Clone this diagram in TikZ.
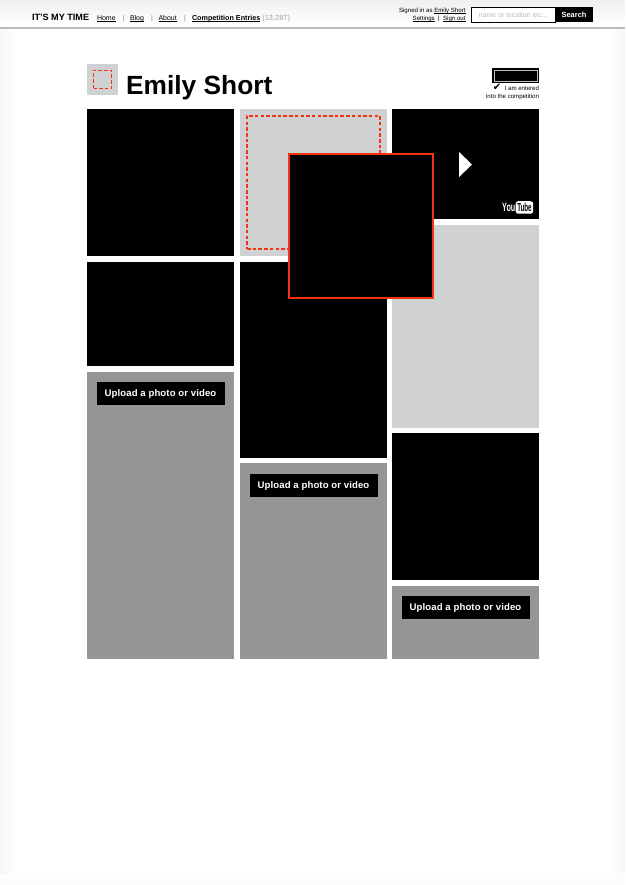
\documentclass[tikz,border=0pt]{standalone}
\usepackage{fontspec}
\setmainfont{Liberation Sans}
\newfontfamily\symfont{DejaVu Sans}
\usepackage{tikz}
\usetikzlibrary{positioning}
\definecolor{tilegray}{HTML}{D0D1D3}
\definecolor{uploadgray}{HTML}{969696}
\definecolor{redline}{HTML}{F4330F}
\definecolor{ruleline}{HTML}{BBBBBB}
\definecolor{edgegray}{HTML}{F6F6F6}
\definecolor{topgray}{HTML}{F0F0F0}
\definecolor{navgray}{HTML}{A0A0A0}
\newcommand{\navul}[1]{\leavevmode\setbox0\hbox{#1}\rlap{\rule[-1pt]{\wd0}{0.4pt}}\box0}

\begin{document}
\begin{tikzpicture}[
  x=1pt,y=-1pt,
  node distance=6pt and 6pt,
  tile/.style={rectangle,fill=black,inner sep=0pt,outer sep=0pt,minimum width=147pt},
  blank/.style={tile,fill=tilegray},
  upload/.style={tile,fill=uploadgray},
  upbtn/.style={rectangle,fill=black,text=white,inner sep=0pt,outer sep=0pt,minimum width=128pt,minimum height=23pt,text depth=0pt,font=\bfseries\fontsize{9.6}{11}\selectfont\addfontfeature{LetterSpace=1}},
  dashbox/.style={rectangle,draw=redline,line width=2pt,inner sep=0pt,outer sep=0pt,dash pattern=on 3.5pt off 2.2pt},
  nav/.style={inner sep=0pt,outer sep=0pt,anchor=base west,font=\fontsize{7}{8}\selectfont},
  small/.style={inner sep=0pt,outer sep=0pt,anchor=base east,align=right,font=\fontsize{6.1}{8.2}\selectfont}
]
\useasboundingbox (0,0) rectangle (625,885);
% page edges
\fill[white] (0,0) rectangle (625,885);
\foreach \i in {0,...,15} {
  \pgfmathsetmacro\amt{100-6.25*\i}
  \fill[edgegray!\amt!white] (\i,0) rectangle (16,885);
  \fill[edgegray!\amt!white] (625-\i,0) rectangle (609,885);
}
\foreach \i in {0,...,11} {
  \pgfmathsetmacro\amt{5*\i}
  \fill[edgegray!\amt!white,fill opacity=0.5] (0,873+\i) rectangle (625,885);
}
\foreach \i in {0,...,25} {
  \pgfmathsetmacro\amt{100-4*\i}
  \fill[topgray!\amt!white] (0,\i) rectangle (625,27);
}
\fill[ruleline] (0,26.8) rectangle (625,28.8);

% top bar
\node[nav,font=\bfseries\fontsize{9.1}{10}\selectfont] (brand) at (32,20.5) {IT'S MY TIME};
\node[nav] (home) at (97,20.5) {\navul{Home}};
\node[nav,text=gray] (s1) at (122.5,20.5) {|};
\node[nav] (blog) at (130,20.5) {\navul{Blog}};
\node[nav,text=gray] (s2) at (151,20.5) {|};
\node[nav] (about) at (158.5,20.5) {\navul{About}};
\node[nav,text=gray] (s3) at (184,20.5) {|};
\node[nav,font=\bfseries\fontsize{7.2}{8}\selectfont] (entries) at (192,20.5) {\navul{Competition Entries}};
\node[nav,text=navgray,font=\fontsize{7.4}{8}\selectfont,right=2pt of entries.base east,anchor=base west] (count) {(13,287)};
\node[small] (signed) at (465.5,12.5) {Signed in as \navul{Emily Short}};
\node[small] (settings) at (465.5,20.5) {\navul{Settings}\ \ |\ \ \navul{Sign out}};
\node[rectangle,draw=black,fill=white,inner sep=0pt,outer sep=0pt,minimum width=83.5pt,minimum height=14.5pt,anchor=north west,text=navgray!70,font=\fontsize{7}{8}\selectfont] (field) at (471.5,7.5) {name or location etc...};
\node[rectangle,fill=black,text=white,inner sep=0pt,outer sep=0pt,minimum width=38pt,minimum height=15.5pt,right=0pt of field,font=\bfseries\fontsize{7.5}{8}\selectfont] (search) {Search};

% name row
\node[rectangle,fill=tilegray,inner sep=0pt,outer sep=0pt,minimum size=31pt,anchor=north west] (avatar) at (87,64) {};
\node[rectangle,draw=redline,line width=1.6pt,inner sep=0pt,dash pattern=on 3.5pt off 2.2pt,minimum size=18pt] (avatardash) at (avatar.center) {};
\node[inner sep=0pt,anchor=base west,font=\bfseries\fontsize{26.3}{30}\selectfont] (name) at (126,95) {Emily Short};
\node[rectangle,fill=black,inner sep=0pt,outer sep=0pt,minimum width=47pt,minimum height=15pt,anchor=north west] (entered) at (492,68) {};
\node[rectangle,fill=black,draw=navgray!70,line width=0.6pt,inner sep=0pt,outer sep=0pt,minimum width=43pt,minimum height=11pt] (enteredin) at (entered.center) {};
\node[small] (am) at (539,91) {{\symfont\fontsize{10}{8}\selectfont ✔}\ \ I am entered};
\node[small] (comp) at (539,99) {into the competition};

% column one
\node[tile,minimum height=147pt,anchor=north west] (a1) at (87,109) {};
\node[tile,minimum height=104pt,below=of a1] (a2) {};
\node[upload,minimum height=287pt,below=of a2] (a3) {};
\node[upbtn] (upa) at (160.5,393.5) {Upload a photo or video};

% column two
\node[blank,minimum height=147pt,anchor=north west] (b1) at (240,109) {};
\node[dashbox,minimum size=133pt] (bdash) at (313.5,182.5) {};
\node[tile,minimum height=196pt,below=of b1] (b2) {};
\node[upload,minimum height=196pt,below=5pt of b2] (b3) {};
\node[upbtn] (upb) at (313.5,485) {Upload a photo or video};

% column three
\node[tile,minimum height=110pt,anchor=north west] (c1) at (392,109) {};
\node[blank,minimum height=203pt,below=of c1] (c2) {};
\node[tile,minimum height=147pt,below=5pt of c2] (c3) {};
\node[upload,minimum height=73pt,below=of c3] (c4) {};
\node[upbtn] (upc) at (465.5,607.5) {Upload a photo or video};

% video marks
\fill[white] (459,152) -- (472,164.5) -- (459,177) -- cycle;
\node[inner sep=0pt,text=white,anchor=base east,font=\bfseries\fontsize{10}{10}\selectfont] (you) at (515.5,212) {\scalebox{0.72}[1.2]{You}};
\node[rectangle,rounded corners=2.5pt,fill=white,text=black,inner sep=0pt,minimum width=17.5pt,minimum height=12.5pt,anchor=west,font=\bfseries\fontsize{10}{10}\selectfont] (tube) at (515.5,207.5) {\scalebox{0.62}[1.15]{Tube}};

% picked up tile
\node[tile,draw=redline,line width=2pt,minimum width=144pt,minimum height=144pt,anchor=north west] (drag) at (288.5,154) {};
\end{tikzpicture}
\end{document}
